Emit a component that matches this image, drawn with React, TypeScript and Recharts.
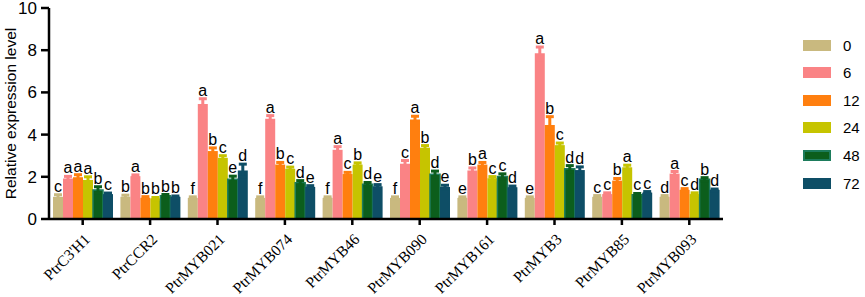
import React from 'react';
import { BarChart, Bar, XAxis, YAxis, ErrorBar, LabelList, Legend } from 'recharts';

const categories = ["PtrC3'H1", 'PtrCCR2', 'PtrMYB021', 'PtrMYB074', 'PtrMYB46', 'PtrMYB090', 'PtrMYB161', 'PtrMYB3', 'PtrMYB85', 'PtrMYB093'];
const seriesNames = ['0', '6', '12', '24', '48', '72'];

const v0 = [1.05, 1.05, 1.0, 1.0, 1.0, 1.0, 1.0, 1.0, 1.05, 1.05];
const v6 = [1.92, 2.03, 5.45, 4.75, 3.28, 2.62, 2.3, 7.85, 1.18, 2.15];
const v12 = [1.98, 1.0, 3.22, 2.58, 2.13, 4.72, 2.58, 4.45, 1.82, 1.38];
const v24 = [1.85, 0.97, 2.9, 2.38, 2.58, 3.38, 1.93, 3.5, 2.45, 1.18];
const v48 = [1.38, 1.1, 1.88, 1.72, 1.65, 2.12, 2.02, 2.38, 1.15, 1.88];
const v72 = [1.18, 1.05, 2.3, 1.52, 1.55, 1.52, 1.5, 2.32, 1.25, 1.38];

const e0 = [0.1, 0.08, 0.05, 0.05, 0.05, 0.05, 0.05, 0.05, 0.06, 0.06];
const e6 = [0.1, 0.06, 0.25, 0.15, 0.15, 0.15, 0.12, 0.3, 0.06, 0.1];
const e12 = [0.12, 0.06, 0.15, 0.1, 0.08, 0.15, 0.1, 0.4, 0.1, 0.06];
const e24 = [0.15, 0.05, 0.1, 0.08, 0.08, 0.1, 0.08, 0.1, 0.1, 0.06];
const e48 = [0.15, 0.06, 0.15, 0.1, 0.08, 0.15, 0.12, 0.15, 0.06, 0.08];
const e72 = [0.05, 0.04, 0.3, 0.06, 0.08, 0.08, 0.06, 0.15, 0.05, 0.04];

const l0 = ['c', 'b', 'f', 'f', 'f', 'f', 'e', 'e', 'c', 'd'];
const l6 = ['a', 'a', 'a', 'a', 'a', 'c', 'b', 'a', 'c', 'a'];
const l12 = ['a', 'b', 'b', 'b', 'c', 'a', 'a', 'b', 'b', 'c'];
const l24 = ['a', 'b', 'c', 'c', 'b', 'b', 'c', 'c', 'a', 'd'];
const l48 = ['b', 'b', 'e', 'd', 'd', 'd', 'c', 'd', 'c', 'b'];
const l72 = ['c', 'b', 'd', 'e', 'e', 'e', 'd', 'd', 'c', 'd'];

const yTicks = [0, 2, 4, 6, 8, 10];

const colors = ['#c9b97f', '#fa8385', '#ff7f0f', '#c6c400', '#0c5e1c', '#0e4e66'];
const strokes = ['none', 'none', 'none', 'none', '#1d7c5c', 'none'];

const values = [v0, v6, v12, v24, v48, v72];
const errors = [e0, e6, e12, e24, e48, e72];
const letters = [l0, l6, l12, l24, l48, l72];

const data = categories.map((c, i) => {
  const row: any = { name: c };
  seriesNames.forEach((s, k) => {
    row['v' + s] = values[k][i];
    row['e' + s] = errors[k][i];
    row['l' + s] = letters[k][i];
  });
  return row;
});

const SANS = 'Liberation Sans, Arial, sans-serif';

const makeLabel = (k: number) => (props: any) => {
  const { x, y, width, height, index } = props;
  const val = values[k][index];
  const err = errors[k][index];
  const ppu = height / val;
  const ty = y - err * ppu - 3;
  return (
    <text x={x + width / 2} y={ty} textAnchor="middle" fontSize={16} fontFamily={SANS} fill="#000">
      {letters[k][index]}
    </text>
  );
};

const XTick = (props: any) => {
  const { x, y, payload } = props;
  return (
    <g transform={`translate(${x + 4},${y + 9})`}>
      <text transform="rotate(-45)" textAnchor="end" fontSize={15.5} fontFamily="Liberation Serif, Times New Roman, serif" fill="#000" dy={6}>
        {payload.value}
      </text>
    </g>
  );
};

const YLabel = (props: any) => {
  const vb = props.viewBox || {};
  const cy = (vb.y ?? 8) + (vb.height ?? 211) / 2;
  return (
    <text x={16} y={cy} transform={`rotate(-90, 16, ${cy})`} textAnchor="middle" fontSize={15.5} fontFamily={SANS} fill="#000">
      Relative expression level
    </text>
  );
};

const LegendContent = () => (
  <div style={{ position: 'relative' }}>
    {seriesNames.map((s, k) => (
      <div key={s} style={{ position: 'absolute', left: 0, top: k * 27.6, display: 'flex', alignItems: 'center', height: 12 }}>
        <div style={{ width: 28, height: 11, boxSizing: 'border-box', background: colors[k], border: k === 4 ? '2px solid #1d7c5c' : 'none' }} />
        <span style={{ marginLeft: 12, fontSize: 15, fontFamily: SANS, color: '#000' }}>{s}</span>
      </div>
    ))}
  </div>
);

export default function App() {
  return (
    <div style={{ position: 'absolute', left: 0, top: 0, width: 865, height: 297, background: '#fff' }}>
      <BarChart width={865} height={297} data={data} margin={{ top: 8, right: 82, left: 0, bottom: 0 }} barCategoryGap={4} barGap={0}>
        <XAxis
          dataKey="name"
          height={78}
          interval={0}
          tick={<XTick />}
          axisLine={{ stroke: '#000', strokeWidth: 2.5 }}
          tickLine={{ stroke: '#000', strokeWidth: 2.5 }}
          tickSize={6}
        />
        <YAxis
          width={49}
          domain={[0, 10]}
          ticks={yTicks}
          interval={0}
          axisLine={{ stroke: '#000', strokeWidth: 2.5 }}
          tickLine={{ stroke: '#000', strokeWidth: 2.5 }}
          tickSize={8}
          tickMargin={4}
          tick={{ fontSize: 17, fill: '#000', fontFamily: SANS }}
          label={<YLabel />}
        />
        <Legend content={<LegendContent />} layout="vertical" align="right" verticalAlign="top" wrapperStyle={{ position: 'absolute', left: 803, top: 39, width: 60 }} />
        {seriesNames.map((s, k) => (
          <Bar key={s} dataKey={'v' + s} name={s} fill={colors[k]} stroke={strokes[k]} strokeWidth={k === 4 ? 1.5 : 0} isAnimationActive={false}>
            <ErrorBar dataKey={'e' + s} width={4} stroke={colors[k]} strokeWidth={3} direction="y" />
            <LabelList dataKey={'l' + s} content={makeLabel(k)} />
          </Bar>
        ))}
      </BarChart>
    </div>
  );
}
